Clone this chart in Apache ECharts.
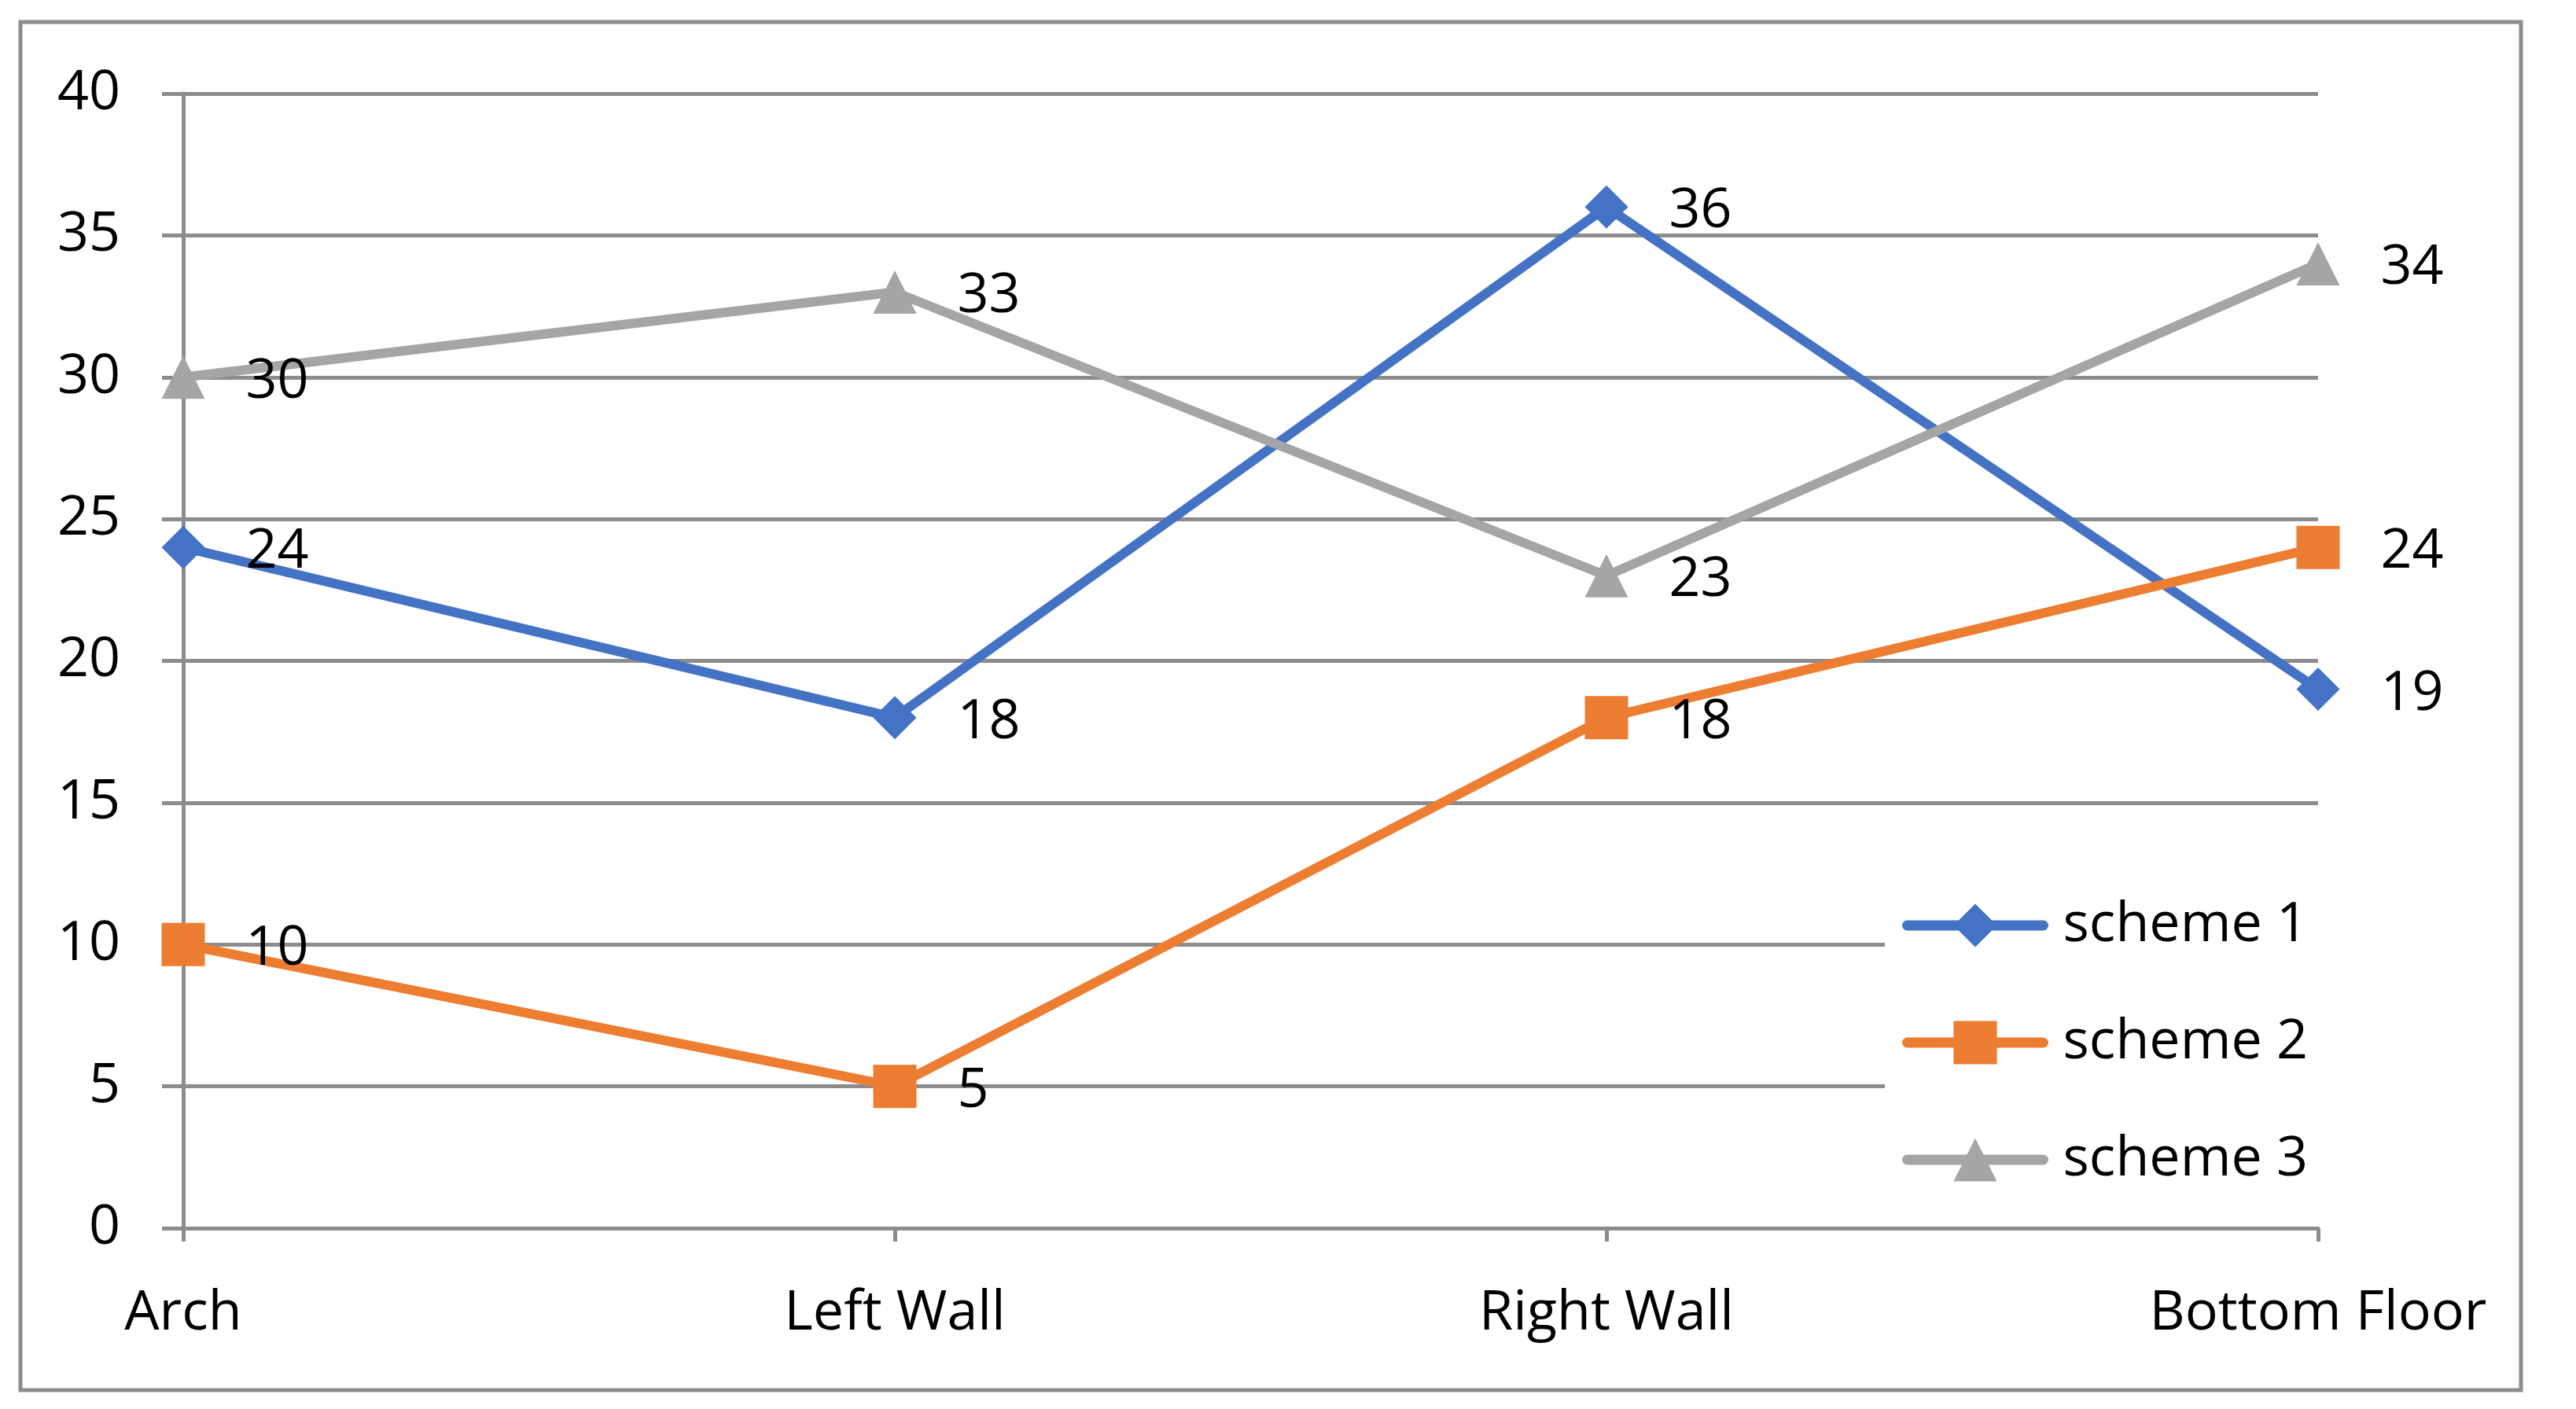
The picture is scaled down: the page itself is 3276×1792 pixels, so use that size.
<!DOCTYPE html>
<html>
<head>
<meta charset="utf-8">
<script src="https://cdn.jsdelivr.net/npm/echarts@6/dist/echarts.min.js"></script>
<style>
html,body{margin:0;padding:0;background:#fff;}
#c{width:3276px;height:1792px;}
</style>
</head>
<body>
<div id="c"></div>
<script>
const categories = ['Arch', 'Left Wall', 'Right Wall', 'Bottom Floor'];
const scheme1 = [24, 18, 36, 19];
const scheme2 = [10, 5, 18, 24];
const scheme3 = [30, 33, 23, 34];
const seriesNames = ['scheme 1', 'scheme 2', 'scheme 3'];
const colors = ['#4472C4', '#ED7D31', '#A5A5A5'];
const symbols = ['diamond', 'rect', 'triangle'];

const FONT = '"Open Sans", sans-serif';
const FS = 70;
const GRID = '#8c8c8c';

const chart = echarts.init(document.getElementById('c'), null, {renderer: 'canvas'});

function mk(i, data) {
  return {
    name: seriesNames[i],
    type: 'line',
    data: data,
    symbol: symbols[i],
    symbolSize: 55,
    showAllSymbol: true,
    lineStyle: {color: colors[i], width: 12, cap: 'round', join: 'round'},
    itemStyle: {color: colors[i]},
    label: {
      show: true, position: 'right', distance: 52, offset: [0, 6],
      color: '#000', fontFamily: FONT, fontSize: FS
    },
    emphasis: {disabled: true},
    animation: false
  };
}

chart.setOption({
  animation: false,
  backgroundColor: '#fff',
  grid: {left: 233, right: 3276 - 2948, top: 119, bottom: 1792 - 1562, containLabel: false},
  xAxis: {
    type: 'category',
    data: categories,
    boundaryGap: false,
    axisLine: {show: true, lineStyle: {color: GRID, width: 5}},
    axisTick: {show: true, length: 17, interval: 0, lineStyle: {color: GRID, width: 5}},
    axisLabel: {color: '#000', fontFamily: FONT, fontSize: FS, margin: 74, interval: 0},
    splitLine: {show: false}
  },
  yAxis: {
    type: 'value',
    min: 0, max: 40, interval: 5,
    axisLine: {show: true, lineStyle: {color: GRID, width: 5}},
    axisTick: {show: true, length: 27, lineStyle: {color: GRID, width: 5}},
    axisLabel: {color: '#000', fontFamily: FONT, fontSize: FS, margin: 80},
    splitLine: {show: true, lineStyle: {color: GRID, width: 5}}
  },
  legend: {
    orient: 'vertical',
    left: 2397,
    top: 1082,
    padding: [60, 30, 30, 22],
    backgroundColor: '#fff',
    itemWidth: 173,
    itemHeight: 69,
    itemGap: 79,
    lineStyle: {width: 13, cap: 'round'},
    textStyle: {color: '#000', fontFamily: FONT, fontSize: FS, padding: [0, 0, 0, 20]},
    data: seriesNames
  },
  graphic: [{
    type: 'rect',
    shape: {x: 26, y: 28, width: 3180, height: 1740},
    style: {fill: 'none', stroke: GRID, lineWidth: 5},
    silent: true, z: 100
  }],
  series: [mk(0, scheme1), mk(1, scheme2), mk(2, scheme3)]
});
</script>
</body>
</html>
